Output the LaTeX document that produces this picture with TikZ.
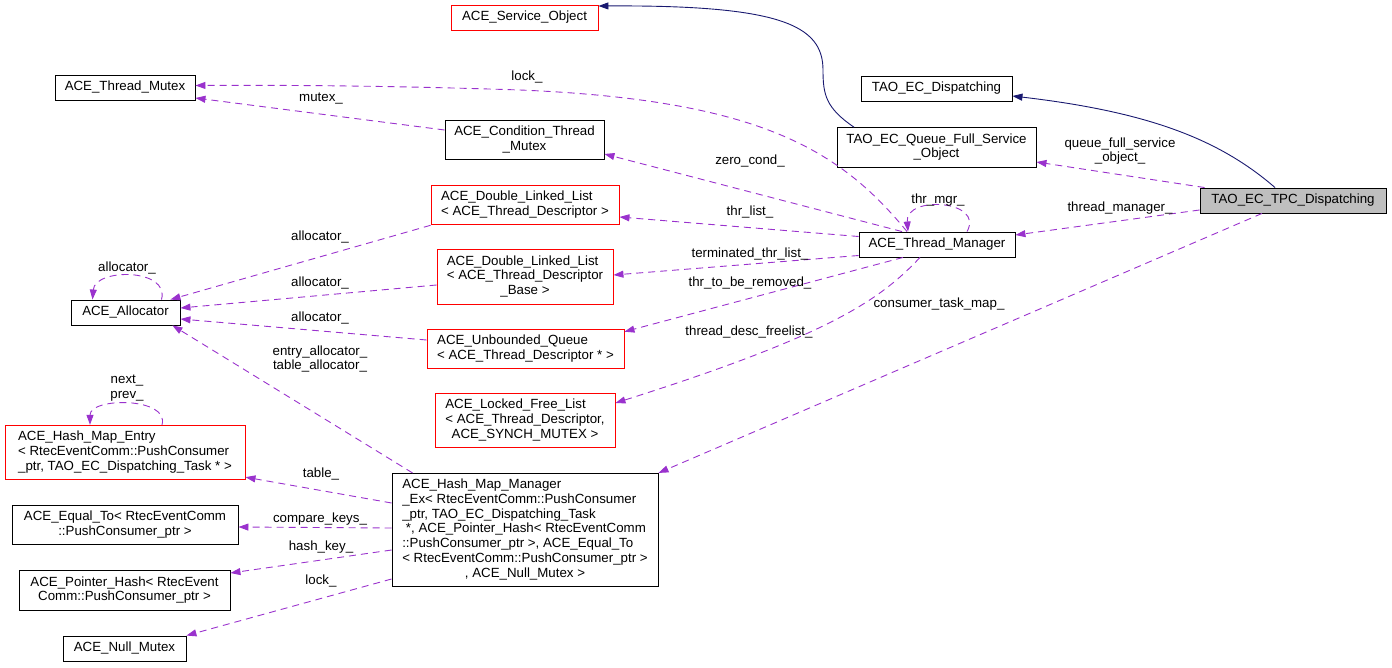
\documentclass[tikz,border=0pt]{standalone}
\usepackage{fontspec}
\setmainfont{Liberation Sans}
\usetikzlibrary{arrows.meta}

\definecolor{memberpurple}{HTML}{9A32CD}
\definecolor{basenavy}{HTML}{191970}
\definecolor{mainfill}{HTML}{BFBFBF}

\newcommand{\dxfont}{\fontsize{13.3}{14.7}\selectfont}
\newcommand{\dxtext}[1]{\begin{tabular}{@{}l@{}}#1\end{tabular}}
\newcommand{\dxlast}[1]{\multicolumn{1}{@{}c@{}}{#1}}

\begin{document}
\begin{tikzpicture}[x=1pt, y=-1pt,
    cls/.style={draw=black, line width=0.9pt, fill=white, inner xsep=4pt, inner ysep=5.15pt, font=\dxfont},
    redcls/.style={cls, draw=red},
    member/.style={draw=memberpurple, line width=0.9pt, dash pattern=on 7pt off 5pt, -{Triangle[length=10pt, width=7pt]}},
    inherit/.style={draw=basenavy, line width=0.9pt, -{Triangle[length=10pt, width=7pt]}},
    lbl/.style={font=\dxfont, inner sep=0pt, align=center}]

    \useasboundingbox (0,0) rectangle (1392,668);

    % Top classes
    \node[redcls, minimum width=147pt] (svc) at (524.5,18) {\dxtext{ACE\_Service\_Object}};
    \node[cls, minimum width=140pt] (tmutex) at (125,87.5) {\dxtext{ACE\_Thread\_Mutex}};
    \node[cls, minimum width=151pt] (ecdisp) at (936.5,88.5) {\dxtext{TAO\_EC\_Dispatching}};
    \node[cls, minimum width=159pt] (cond) at (524.5,140) {\dxtext{ACE\_Condition\_Thread\\ \dxlast{\_Mutex}}};
    \node[cls, minimum width=199pt] (qfso) at (936.5,147.5) {\dxtext{TAO\_EC\_Queue\_Full\_Service\\ \dxlast{\_Object}}};
    \node[cls, fill=mainfill, minimum width=186pt] (tpc) at (1293,200.5) {\dxtext{TAO\_EC\_TPC\_Dispatching}};

    % Thread manager and its lists
    \node[cls, minimum width=156pt] (tm) at (937,244.5) {\dxtext{ACE\_Thread\_Manager}};
    \node[redcls, minimum width=188pt] (dll1) at (525,205) {\dxtext{ACE\_Double\_Linked\_List\\ \dxlast{< ACE\_Thread\_Descriptor >}}};
    \node[redcls, minimum width=176pt] (dll2) at (525,277) {\dxtext{ACE\_Double\_Linked\_List\\< ACE\_Thread\_Descriptor\\ \dxlast{\_Base >}}};
    \node[redcls, minimum width=197pt] (uq) at (525.5,349) {\dxtext{ACE\_Unbounded\_Queue\\ \dxlast{< ACE\_Thread\_Descriptor * >}}};
    \node[redcls, minimum width=180pt] (lfl) at (525,420.5) {\dxtext{ACE\_Locked\_Free\_List\\< ACE\_Thread\_Descriptor,\\ \dxlast{ACE\_SYNCH\_MUTEX >}}};
    \node[cls, minimum width=109pt] (alloc) at (125.5,312.5) {\dxtext{ACE\_Allocator}};

    % Hash map classes
    \node[redcls, minimum width=240pt] (hme) at (125,452.5) {\dxtext{ACE\_Hash\_Map\_Entry\\< RtecEventComm::PushConsumer\\ \dxlast{\_ptr, TAO\_EC\_Dispatching\_Task * >}}};
    \node[cls, minimum width=226pt] (eq) at (125,525) {\dxtext{ACE\_Equal\_To< RtecEventComm\\ \dxlast{::PushConsumer\_ptr >}}};
    \node[cls, minimum width=211pt] (ph) at (124.5,590.5) {\dxtext{ACE\_Pointer\_Hash< RtecEvent\\ \dxlast{Comm::PushConsumer\_ptr >}}};
    \node[cls, minimum width=123pt] (nm) at (124.5,648.5) {\dxtext{ACE\_Null\_Mutex}};
    \node[cls, minimum width=266pt] (hmm) at (525,530) {\dxtext{ACE\_Hash\_Map\_Manager\\\_Ex< RtecEventComm::PushConsumer\\\_ptr, TAO\_EC\_Dispatching\_Task\\\ *, ACE\_Pointer\_Hash< RtecEventComm\\::PushConsumer\_ptr >, ACE\_Equal\_To\\< RtecEventComm::PushConsumer\_ptr >\\ \dxlast{, ACE\_Null\_Mutex >}}};

    % Inheritance
    \draw[inherit] ([xshift=-82.5pt]qfso.north) .. controls (826,108) and (823,95) .. (823,70) .. controls (823,25) and (780,5) .. ([yshift=12pt]svc.east);
    \draw[inherit] ([xshift=-18pt]tpc.north) .. controls (1220,140) and (1150,112) .. ([yshift=-7.5pt]ecdisp.east);

    % Members of the dispatching class
    \draw[member] ([xshift=5pt]tpc.north west) -- ([yshift=-14.5pt]qfso.east);
    \node[lbl] (l-qfso) at (1120,151) {queue\_full\_service\\\_object\_};
    \draw[member] ([yshift=-9.5pt]tpc.west) -- ([yshift=9.5pt]tm.east);
    \node[lbl] (l-tm) at (1120,208) {thread\_manager\_};
    \draw[member] ([xshift=-31pt]tpc.south) -- (hmm.north east);
    \node[lbl] (l-ctm) at (939,304) {consumer\_task\_map\_};

    % Members of the thread manager
    \draw[member] ([xshift=-30pt]tm.north) .. controls (840,150) and (760,100) .. (520,90) .. controls (400,86) and (300,85) .. ([yshift=2pt]tmutex.east);
    \node[lbl] (l-lock) at (527,77) {lock\_};
    \draw[member] ([yshift=10pt]cond.west) -- ([yshift=-10.5pt]tmutex.east);
    \node[lbl] (l-mutex) at (321,99) {mutex\_};
    \draw[member] ([xshift=-35pt]tm.north) -- ([yshift=-14pt]cond.east);
    \node[lbl] (l-zero) at (750,161) {zero\_cond\_};
    \draw[member] ([yshift=8pt]tm.west) -- ([yshift=-12pt]dll1.east);
    \node[lbl] (l-thrlist) at (750,212) {thr\_list\_};
    \draw[member] ([yshift=-11pt]tm.west) -- ([yshift=2pt]dll2.east);
    \node[lbl] (l-term) at (750,254) {terminated\_thr\_list\_};
    \draw[member] ([xshift=-34pt]tm.south) -- ([yshift=-3pt]uq.north east);
    \node[lbl] (l-remove) at (750,283) {thr\_to\_be\_removed\_};
    \draw[member] ([xshift=-17pt]tm.south) .. controls (880,300) and (830,335) .. ([yshift=17.5pt]lfl.east);
    \node[lbl] (l-free) at (749,332) {thread\_desc\_freelist\_};
    \draw[member] ([xshift=30pt]tm.north) .. controls (985,200) and (905,195) .. ([xshift=-29pt]tm.north);
    \node[lbl] (l-thrmgr) at (938,200) {thr\_mgr\_};

    % Allocators
    \draw[member] (dll1.south west) -- ([xshift=-10pt]alloc.north east);
    \node[lbl] (l-alloc1) at (320,237) {allocator\_};
    \draw[member] ([yshift=-8pt]dll2.west) -- ([yshift=4.5pt]alloc.east);
    \node[lbl] (l-alloc2) at (320,283) {allocator\_};
    \draw[member] ([yshift=9pt]uq.west) -- ([yshift=-6.5pt]alloc.east);
    \node[lbl] (l-alloc3) at (320,318) {allocator\_};
    \draw[member] ([xshift=36pt]alloc.north) .. controls (170,268) and (95,268) .. ([xshift=-33pt]alloc.north);
    \node[lbl] (l-alloc0) at (127,268) {allocator\_};
    \draw[member] ([xshift=21pt]hmm.north west) -- ([xshift=-8pt]alloc.south east);
    \node[lbl] (l-entry) at (320,359) {entry\_allocator\_\\table\_allocator\_};

    % Members of the hash map
    \draw[member] ([xshift=37pt]hme.north) .. controls (170,397) and (90,397) .. ([xshift=-35pt]hme.north);
    \node[lbl] (l-next) at (127,388) {next\_\\prev\_};
    \draw[member] ([yshift=27pt]hmm.west) -- ([yshift=3pt]hme.south east);
    \node[lbl] (l-table) at (321,474) {table\_};
    \draw[member] ([yshift=2pt]hmm.west) -- ([yshift=-2pt]eq.east);
    \node[lbl] (l-cmp) at (320,519) {compare\_keys\_};
    \draw[member] ([yshift=-20pt]hmm.west) -- ([yshift=17.5pt]ph.east);
    \node[lbl] (l-hash) at (321,547) {hash\_key\_};
    \draw[member] ([yshift=-49pt]hmm.west) -- (nm.north east);
    \node[lbl] (l-lock2) at (321,581) {lock\_};

\end{tikzpicture}
\end{document}
